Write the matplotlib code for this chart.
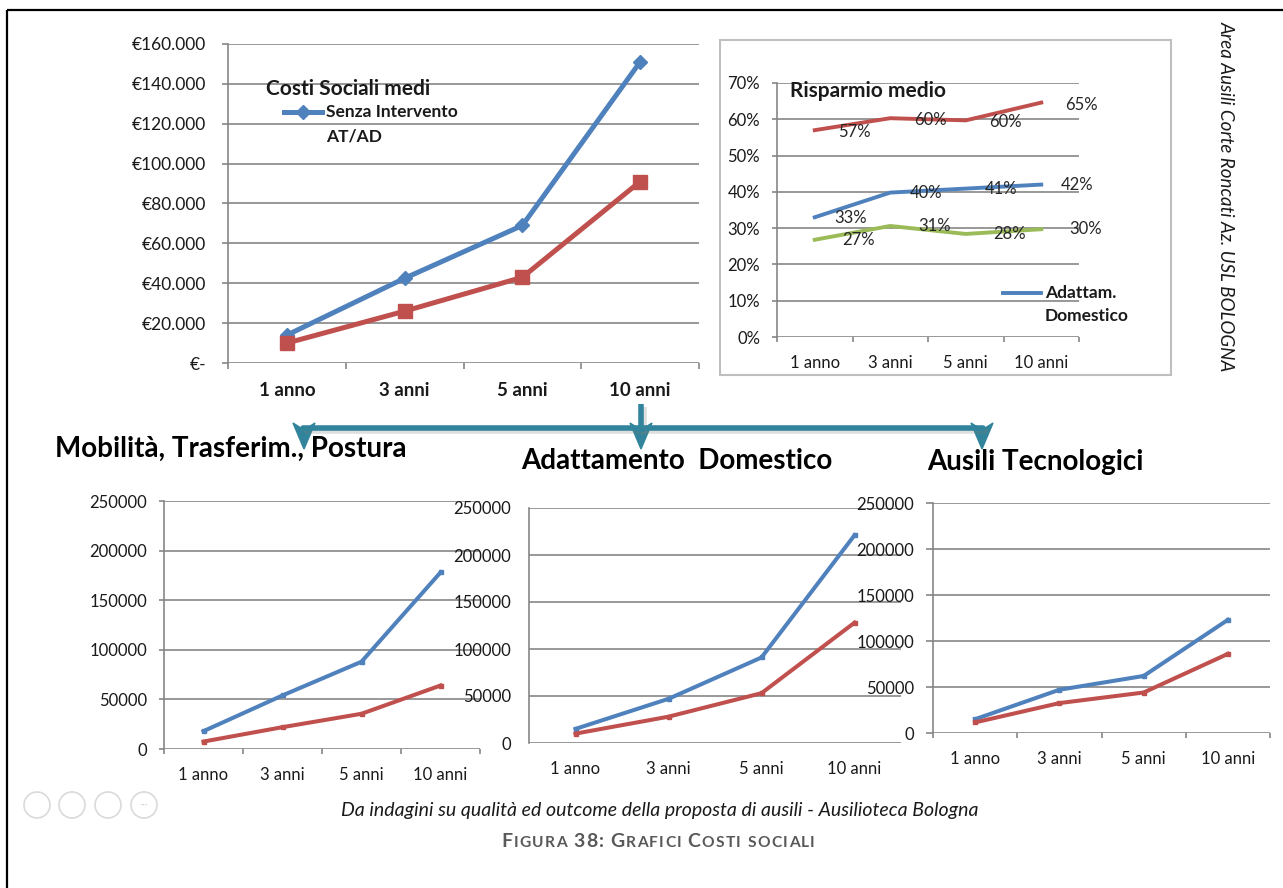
import matplotlib

matplotlib.use("Agg")
import matplotlib.pyplot as plt
from matplotlib.lines import Line2D
from matplotlib.patches import Polygon, Rectangle, Circle
from matplotlib.offsetbox import TextArea, HPacker, AnchoredOffsetbox, DrawingArea
from matplotlib.ticker import FuncFormatter, MultipleLocator, FixedLocator

W, H = 1283, 888
plt.rcParams["font.family"] = ["Lato", "DejaVu Sans"]

BLUE = "#4f81bd"
RED = "#c0504d"
GREEN = "#9bbb59"
GRID = "#868686"
TEAL = "#31849b"
TXT = "#1a1a1a"

# --- data -------------------------------------------------------------------
anni = ["1 anno", "3 anni", "5 anni", "10 anni"]

# costi sociali medi (euro)
costi_senza = [14000, 42500, 69000, 151000]
costi_con = [10000, 26000, 43000, 91000]

# risparmio medio per area
risp_mobilita = [0.57, 0.603, 0.597, 0.646]
risp_adattam = [0.33, 0.398, 0.409, 0.42]
risp_ausili = [0.268, 0.306, 0.284, 0.297]

# costi per area: senza intervento / con intervento
mob_senza = [18000, 54000, 88000, 178000]
mob_con = [7500, 22000, 35500, 64000]
adatt_senza = [15000, 47000, 91000, 221000]
adatt_con = [10000, 28000, 53000, 128000]
ausili_senza = [15000, 47000, 62000, 123000]
ausili_con = [11500, 32500, 44000, 86000]


def box(x0, y0, x1, y1):
    """Pixel box (top-left origin) -> figure fraction rect."""
    return [x0 / W, 1 - y1 / H, (x1 - x0) / W, (y1 - y0) / H]


def excel_axes(rect, ymax, step, fmt, size=12, ypad=8.6, xpad=13,
               ytick=3.6, xtick=3.6, xbold=False, xsize=None):
    ax = fig.add_axes(box(*rect))
    ax.set_facecolor("none")
    ax.set_xlim(-0.5, 3.5)
    ax.set_ylim(0, ymax)
    ax.yaxis.set_major_locator(MultipleLocator(step))
    ax.yaxis.set_major_formatter(FuncFormatter(fmt))
    ax.yaxis.grid(True, color=GRID, linewidth=1.2)
    ax.set_axisbelow(True)
    for s in ["top", "right", "bottom"]:
        ax.spines[s].set_visible(False)
    ax.spines["left"].set_color(GRID)
    ax.spines["left"].set_linewidth(1.2)
    ax.set_xticks(range(4))
    ax.set_xticklabels(anni, fontsize=xsize or size,
                       fontweight="bold" if xbold else "normal", color=TXT)
    ax.xaxis.set_minor_locator(FixedLocator([-0.5, 0.5, 1.5, 2.5, 3.5]))
    ax.tick_params(axis="x", which="major", length=0, pad=xpad)
    ax.tick_params(axis="x", which="minor", length=xtick, color=GRID, width=1.2)
    ax.tick_params(axis="y", length=ytick, color=GRID, width=1.2, pad=ypad,
                   labelsize=size, labelcolor=TXT)
    return ax


fig = plt.figure(figsize=(W / 100, H / 100), dpi=100)
fig.patch.set_facecolor("white")

# --- costi sociali medi -------------------------------------------------------
ax1 = excel_axes((228, 44, 699, 363), 160000, 20000,
                 lambda v, _: "€-" if v == 0 else "€{:,.0f}".format(v).replace(",", "."),
                 size=12.5, ypad=11.5, xpad=14, ytick=4.3, xtick=4.3, xbold=True,
                 xsize=13.5)
x = range(len(anni))
ax1.plot(x, costi_senza, color=BLUE, lw=3.6, marker="D", ms=7.5, mec=BLUE, clip_on=False)
ax1.plot(x, costi_con, color=RED, lw=3.6, marker="s", ms=9.5, mec=RED, clip_on=False)

# --- risparmio medio ----------------------------------------------------------
ax2 = excel_axes((777, 83, 1079, 337), 0.7, 0.1, lambda v, _: "{:.0%}".format(v),
                 size=12, ypad=8.6, xpad=13)
for vals, col, dx, dy in [(risp_mobilita, RED, 17, -1.5), (risp_adattam, BLUE, 14, -0.5),
                          (risp_ausili, GREEN, 20, 0)]:
    ax2.plot(x, vals, color=col, lw=2.8)
    for i, v in enumerate(vals):
        ax2.annotate("{:.0%}".format(v), (i, v), xytext=(dx, dy),
                     textcoords="offset points", ha="left", va="center",
                     fontsize=12, color="#262626")

# --- aree ---------------------------------------------------------------------
bottom = [
    ((164, 501, 480, 749), mob_senza, mob_con, 3.6, 3.6, 8.6),
    ((529, 508, 901, 743), adatt_senza, adatt_con, 0, 0, 13),
    ((933, 503, 1270, 733), ausili_senza, ausili_con, 5, 3.6, 8.6),
]
for rect, senza, con, yt, xt, yp in bottom:
    ax = excel_axes(rect, 250000, 50000, lambda v, _: "{:.0f}".format(v),
                    size=12, ypad=yp, xpad=13, ytick=yt, xtick=xt)
    ax.plot(x, senza, color=BLUE, lw=2.9, marker="s", ms=3, clip_on=False)
    ax.plot(x, con, color=RED, lw=2.9, marker="s", ms=3, clip_on=False)

# --- overlay in pixel coordinates --------------------------------------------
ov = fig.add_axes([0, 0, 1, 1])
ov.set_xlim(0, W)
ov.set_ylim(H, 0)
ov.axis("off")
ov.set_facecolor("none")

# page border
ov.plot([7, 7], [10, H], color="black", lw=1.6, solid_capstyle="butt")
ov.plot([7, W], [10, 10], color="black", lw=1.6, solid_capstyle="butt")

# legend / title inside costi sociali
ov.text(266, 89, "Costi Sociali medi", fontsize=15, fontweight="bold", color=TXT,
        va="center", ha="left")
ov.add_line(Line2D([284, 322], [112, 112], color=BLUE, lw=3.6))
ov.add_line(Line2D([303], [112], color=BLUE, marker="D", ms=7.5))
ov.text(326, 112, "Senza Intervento", fontsize=12.5, fontweight="bold", color=TXT,
        va="center", ha="left")
ov.text(326, 136, "AT/AD", fontsize=12.5, fontweight="bold", color=TXT,
        va="center", ha="left")

# frame, title and legend of risparmio medio
ov.add_patch(Rectangle((720, 40), 451, 335, fill=False, edgecolor="#bfbfbf", lw=1.5))
ov.text(790, 91, "Risparmio medio", fontsize=15, fontweight="bold", color=TXT,
        va="center", ha="left")
ov.add_line(Line2D([1003, 1041], [293, 293], color=BLUE, lw=2.8))
ov.text(1045, 293, "Adattam.", fontsize=12.5, fontweight="bold", color=TXT,
        va="center", ha="left")
ov.text(1045, 316, "Domestico", fontsize=12.5, fontweight="bold", color=TXT,
        va="center", ha="left")

ov.text(1226, 196, "Area Ausili Corte Roncati Az. USL BOLOGNA", rotation=-90,
        fontsize=13.5, style="italic", color=TXT, ha="center", va="center")

# area titles
ov.text(55, 449, "Mobilità, Trasferim., Postura", fontsize=20, fontweight="bold",
        color="black", va="center", ha="left")
ov.text(521, 461, "Adattamento  Domestico", fontsize=20, fontweight="bold",
        color="black", va="center", ha="left")
ov.text(927, 462, "Ausili Tecnologici", fontsize=20, fontweight="bold",
        color="black", va="center", ha="left")


# connector arrows
def stealth(cx, top=423, tip=449, half=11):
    return Polygon([(cx - half, top), (cx, top + 7), (cx + half, top), (cx, tip)],
                   closed=True, facecolor=TEAL, edgecolor=TEAL, lw=1)


for off, col, a in [(3, "#7f7f7f", 0.25), (0, TEAL, 1)]:
    ov.plot([303 + off, 983 + off], [428 + off, 428 + off], color=col, alpha=a,
            lw=4, solid_capstyle="round")
    ov.plot([641 + off, 641 + off], [404 + off, 432 + off], color=col, alpha=a,
            lw=4, solid_capstyle="butt")
for cx in (304, 641, 982):
    ov.add_patch(stealth(cx))

# viewer icons
for cx in (37, 72, 108, 144):
    ov.add_patch(Circle((cx, 805), 13, fill=False, edgecolor="#dadada", lw=1.2))
ov.text(144, 805, "···", fontsize=7, color="#c8c8c8", ha="center", va="center")

# captions
ov.text(660, 810, "Da indagini su qualità ed outcome della proposta di ausili - Ausilioteca Bologna",
        fontsize=14, style="italic", color=TXT, ha="center", va="center")

big = dict(fontsize=14, fontweight="bold", color="#595959")
small = dict(fontsize=11.2, fontweight="bold", color="#595959")
pieces = [("F", big), ("IGURA ", small), ("38: ", big), ("G", big),
          ("RAFICI ", small), ("C", big), ("OSTI SOCIALI", small)]
chars = []
for text, props in pieces:
    for ch in text:
        chars.append(DrawingArea(3, 1) if ch == " " else TextArea(ch, textprops=props))
packer = HPacker(children=chars, align="baseline", pad=0, sep=0.9)
ov.add_artist(AnchoredOffsetbox(loc="center", child=packer, frameon=False,
                                bbox_to_anchor=(658, 841),
                                bbox_transform=ov.transData, pad=0, borderpad=0))

fig.savefig("out.png", dpi=100)
